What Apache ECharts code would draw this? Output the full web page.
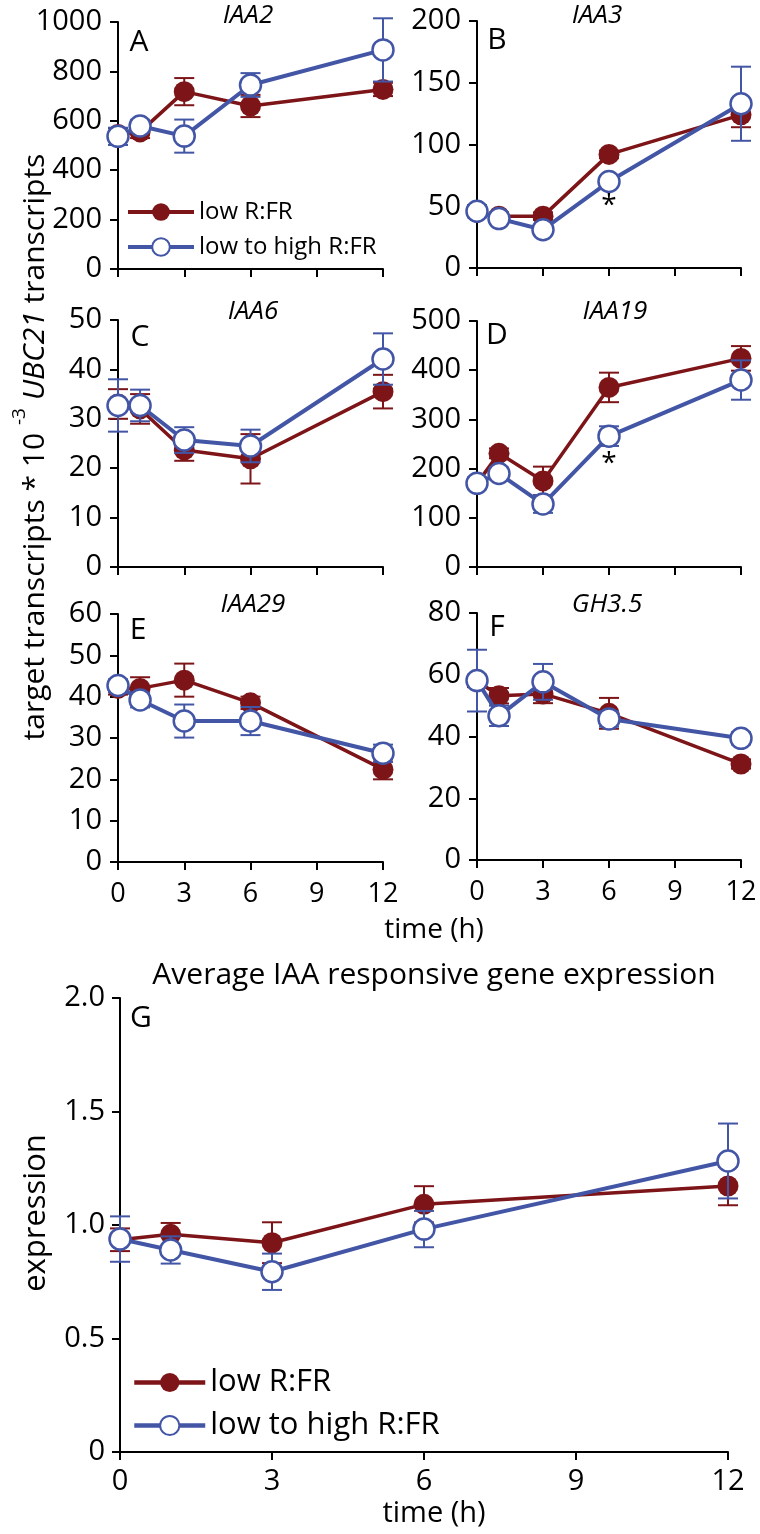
<!DOCTYPE html>
<html><head><meta charset="utf-8">
<script src="https://cdn.jsdelivr.net/npm/echarts@6/dist/echarts.min.js"></script>
<style>html,body{margin:0;padding:0;background:#fff}#c{width:760px;height:1534px}</style>
</head><body><div id="c"></div>
<script>
// ---------- data ----------
const times = [0, 1, 3, 6, 12];
const xTicks = [0, 3, 6, 9, 12];
const seriesNames = ['low R:FR', 'low to high R:FR'];
const panelLetters = ['A', 'B', 'C', 'D', 'E', 'F', 'G'];
const geneNames = ['IAA2', 'IAA3', 'IAA6', 'IAA19', 'IAA29', 'GH3.5'];

const iaa2Low = [545, 555, 718, 660, 727];
const iaa2LowErr = [25, 25, 55, 45, 27];
const iaa2High = [537, 579, 538, 745, 887];
const iaa2HighErr = [35, 25, 67, 48, 128];

const iaa3Low = [45, 42, 42, 92, 124];
const iaa3LowErr = [3, 3, 3, 3, 10];
const iaa3High = [46, 40, 31, 70, 133];
const iaa3HighErr = [5, 3, 3, 3, 30];

const iaa6Low = [33, 32, 23.7, 21.9, 35.5];
const iaa6LowErr = [3, 3, 2.2, 5, 3.4];
const iaa6High = [32.7, 32.7, 25.7, 24.5, 42.1];
const iaa6HighErr = [5.3, 3.2, 2.6, 3.3, 5.2];

const iaa19Low = [170, 231, 175, 365, 424];
const iaa19LowErr = [10, 10, 29, 30, 25];
const iaa19High = [170, 190, 128, 266, 380];
const iaa19HighErr = [12, 12, 18, 20, 40];

const iaa29Low = [42, 42, 44, 38.5, 22.4];
const iaa29LowErr = [1.5, 2.7, 4, 1.5, 2.4];
const iaa29High = [42.7, 39.2, 34.1, 34.1, 26.3];
const iaa29HighErr = [1.5, 1.8, 4, 3.4, 2.1];

const gh35Low = [58, 53.2, 53.8, 47.5, 31.1];
const gh35LowErr = [2, 2.5, 3, 5, 1.5];
const gh35High = [58.1, 46.7, 57.7, 45.7, 39.4];
const gh35HighErr = [10, 3.3, 5.8, 2.5, 2];

const avgLow = [0.935, 0.959, 0.922, 1.091, 1.172];
const avgLowErr = [0.05, 0.05, 0.09, 0.08, 0.085];
const avgHigh = [0.938, 0.89, 0.794, 0.982, 1.282];
const avgHighErr = [0.1, 0.06, 0.08, 0.08, 0.165];

const yTicksA = [0, 200, 400, 600, 800, 1000];
const yTicksB = [0, 50, 100, 150, 200];
const yTicksC = [0, 10, 20, 30, 40, 50];
const yTicksD = [0, 100, 200, 300, 400, 500];
const yTicksE = [0, 10, 20, 30, 40, 50, 60];
const yTicksF = [0, 20, 40, 60, 80];
const yTicksG = [0, 0.5, 1.0, 1.5, 2.0];

// significance marks: [panelIndex, time, value]
const sigMarks = [[1, 6, 50], [3, 6, 210]];

// ---------- assembly ----------
const panels = [
  {low: iaa2Low, lowErr: iaa2LowErr, high: iaa2High, highErr: iaa2HighErr, ticks: yTicksA},
  {low: iaa3Low, lowErr: iaa3LowErr, high: iaa3High, highErr: iaa3HighErr, ticks: yTicksB},
  {low: iaa6Low, lowErr: iaa6LowErr, high: iaa6High, highErr: iaa6HighErr, ticks: yTicksC},
  {low: iaa19Low, lowErr: iaa19LowErr, high: iaa19High, highErr: iaa19HighErr, ticks: yTicksD},
  {low: iaa29Low, lowErr: iaa29LowErr, high: iaa29High, highErr: iaa29HighErr, ticks: yTicksE},
  {low: gh35Low, lowErr: gh35LowErr, high: gh35High, highErr: gh35HighErr, ticks: yTicksF},
  {low: avgLow, lowErr: avgLowErr, high: avgHigh, highErr: avgHighErr, ticks: yTicksG}
];

const layout = [
  {left: 118, top: 22, width: 265, height: 247},
  {left: 477, top: 21, width: 264, height: 247},
  {left: 118, top: 320, width: 265, height: 247},
  {left: 477, top: 321, width: 264, height: 246},
  {left: 118, top: 614, width: 265, height: 248},
  {left: 477, top: 613, width: 264, height: 247},
  {left: 120, top: 998, width: 608, height: 454}
];

const FONT = '"Open Sans", sans-serif';
const RED = '#7d1518';
const BLUE = '#4356a6';

const grids = [], xAxes = [], yAxes = [], series = [];

panels.forEach((p, i) => {
  const isG = i === 6;
  grids.push(Object.assign({}, layout[i]));
  xAxes.push({
    gridIndex: i, type: 'value',
    min: xTicks[0], max: xTicks[xTicks.length - 1], interval: xTicks[1] - xTicks[0],
    axisLine: {show: true, onZero: false, lineStyle: {color: '#000', width: 2}},
    axisTick: {show: true, length: 8, lineStyle: {color: '#000', width: 2}},
    axisLabel: {show: i >= 4, fontSize: isG ? 29 : 27, color: '#000', margin: isG ? 15 : 19, fontFamily: FONT},
    splitLine: {show: false}
  });
  const t = p.ticks;
  yAxes.push({
    gridIndex: i, type: 'value',
    min: t[0], max: t[t.length - 1], interval: t[1] - t[0],
    axisLine: {show: true, onZero: false, lineStyle: {color: '#000', width: 2}},
    axisTick: {show: true, length: 8, lineStyle: {color: '#000', width: 2}},
    axisLabel: {
      show: true, fontSize: 29, color: '#000', margin: isG ? 15 : 16, fontFamily: FONT,
      formatter: isG ? (v => v === 0 ? '0' : v.toFixed(1)) : (v => String(v))
    },
    splitLine: {show: false}
  });

  const groups = [
    {name: seriesNames[0], vals: p.low, errs: p.lowErr, color: RED, fill: RED, lw: 3.5},
    {name: seriesNames[1], vals: p.high, errs: p.highErr, color: BLUE, fill: '#fff', lw: 4}
  ];
  groups.forEach((g, gi) => {
    series.push({
      type: 'custom', xAxisIndex: i, yAxisIndex: i, silent: true, z: 2 + gi * 2,
      data: times.map((tt, k) => [tt, g.vals[k] - g.errs[k], g.vals[k] + g.errs[k]]),
      encode: {x: 0, y: [1, 2]},
      renderItem: (params, api) => {
        const x = api.value(0);
        const lo = api.coord([x, api.value(1)]);
        const hi = api.coord([x, api.value(2)]);
        const w = 10;
        const st = {stroke: g.color, lineWidth: 2};
        return {type: 'group', children: [
          {type: 'line', shape: {x1: lo[0], y1: lo[1], x2: hi[0], y2: hi[1]}, style: st},
          {type: 'line', shape: {x1: hi[0] - w, y1: hi[1], x2: hi[0] + w, y2: hi[1]}, style: st},
          {type: 'line', shape: {x1: lo[0] - w, y1: lo[1], x2: lo[0] + w, y2: lo[1]}, style: st}
        ]};
      }
    });
    series.push({
      type: 'line', name: g.name, xAxisIndex: i, yAxisIndex: i, z: 3 + gi * 2,
      data: times.map((tt, k) => [tt, g.vals[k]]),
      symbol: 'circle', symbolSize: 21, showAllSymbol: true,
      lineStyle: {color: g.color, width: g.lw},
      itemStyle: {color: g.fill, borderColor: g.color, borderWidth: gi === 1 ? 2.5 : 0},
      emphasis: {disabled: true}, clip: false
    });
  });
});

sigMarks.forEach(m => {
  series.push({
    type: 'custom', xAxisIndex: m[0], yAxisIndex: m[0], silent: true, z: 10,
    data: [[m[1], m[2]]],
    renderItem: (params, api) => {
      const pt = api.coord([api.value(0), api.value(1)]);
      return {type: 'text', x: pt[0], y: pt[1], style: {text: '*', fill: '#000', font: '28px ' + FONT, textAlign: 'center', textVerticalAlign: 'middle'}};
    }
  });
});

const titlePos = [[248, 16], [597, 16], [253, 312], [615, 312], [253, 605], [607, 605]];
const letterPos = [[139, 42], [497, 40], [140, 337], [497, 335], [138, 630], [497, 627], [141, 1018]];

const graphic = [];
geneNames.forEach((n, i) => {
  graphic.push({type: 'text', x: titlePos[i][0], y: titlePos[i][1],
    style: {text: n, font: 'italic 26px ' + FONT, fill: '#000', textAlign: 'center', textVerticalAlign: 'middle'}});
});
panelLetters.forEach((n, i) => {
  graphic.push({type: 'text', x: letterPos[i][0], y: letterPos[i][1],
    style: {text: n, font: '30px ' + FONT, fill: '#000', textAlign: 'center', textVerticalAlign: 'middle'}});
});
graphic.push({type: 'text', x: 434, y: 930,
  style: {text: 'time (h)', font: '28px ' + FONT, fill: '#000', textAlign: 'center', textVerticalAlign: 'middle'}});
graphic.push({type: 'text', x: 434, y: 1514,
  style: {text: 'time (h)', font: '29px ' + FONT, fill: '#000', textAlign: 'center', textVerticalAlign: 'middle'}});
graphic.push({type: 'text', x: 434, y: 975,
  style: {text: 'Average IAA responsive gene expression', font: '30px ' + FONT, fill: '#000', textAlign: 'center', textVerticalAlign: 'middle'}});
graphic.push({type: 'text', x: 36, y: 1213, rotation: Math.PI / 2,
  style: {text: 'expression', font: '31px ' + FONT, fill: '#000', textAlign: 'center', textVerticalAlign: 'middle'}});
graphic.push({type: 'text', x: 30, y: 447, rotation: Math.PI / 2,
  style: {
    text: '{a|target transcripts * 10 }{s|-3}{a| }{i|UBC21}{a| transcripts}',
    textAlign: 'center', textVerticalAlign: 'middle', fill: '#000',
    rich: {
      a: {fontSize: 30, fontFamily: FONT, fill: '#000', lineHeight: 40, verticalAlign: 'bottom'},
      s: {fontSize: 19, fontFamily: FONT, fill: '#000', lineHeight: 40, verticalAlign: 'top'},
      i: {fontSize: 30, fontFamily: FONT, fontStyle: 'italic', fill: '#000', lineHeight: 40, verticalAlign: 'bottom'}
    }
  }});

const option = {
  animation: false,
  backgroundColor: '#fff',
  grid: grids, xAxis: xAxes, yAxis: yAxes, series: series, graphic: graphic,
  legend: [
    {data: seriesNames, left: 126, top: 200, orient: 'vertical', itemWidth: 66, itemHeight: 22, itemGap: 11,
     padding: 0, selectedMode: false, lineStyle: {width: 4},
     textStyle: {fontSize: 24, color: '#000', fontFamily: FONT}},
    {data: seriesNames, left: 132, top: 1367, orient: 'vertical', itemWidth: 71, itemHeight: 24, itemGap: 12,
     padding: 0, selectedMode: false, lineStyle: {width: 4.5},
     textStyle: {fontSize: 31, color: '#000', fontFamily: FONT}}
  ]
};

const chart = echarts.init(document.getElementById('c'), null, {renderer: 'canvas'});
chart.setOption(option);
</script>
</body></html>
